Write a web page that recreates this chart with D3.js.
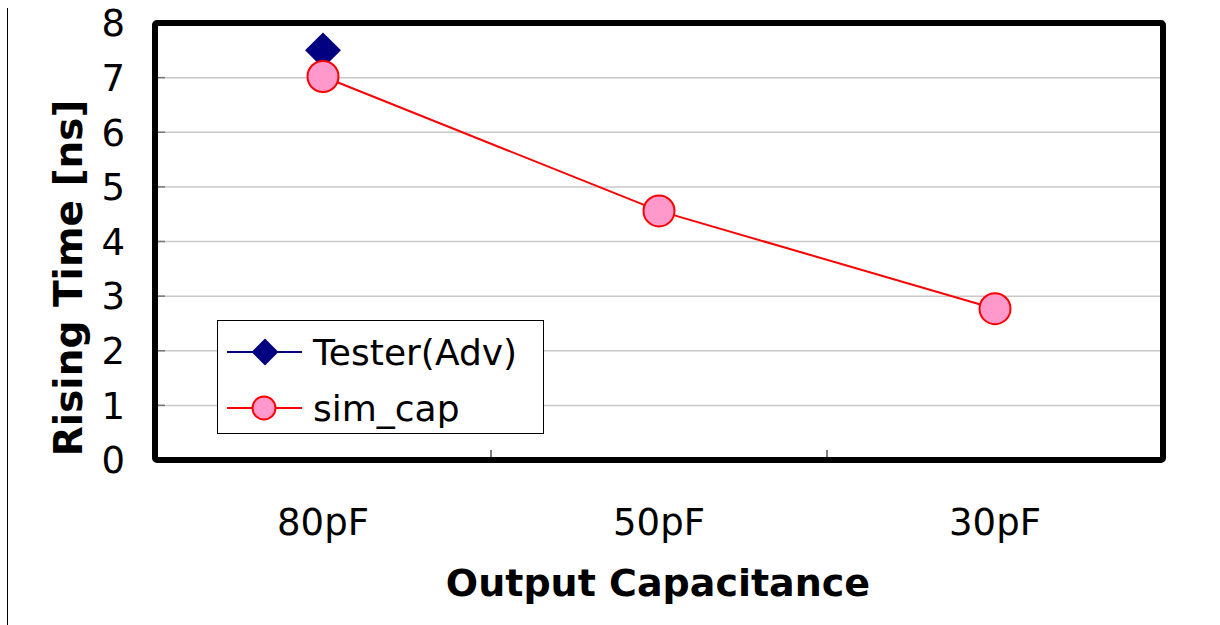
<!DOCTYPE html>
<html>
<head>
<meta charset="utf-8">
<script src="https://cdn.jsdelivr.net/npm/d3@7"></script>
<style>
  body { margin: 0; background: #fff; }
  text { font-family: "DejaVu Sans", "Noto Sans", sans-serif; }
</style>
</head>
<body>
<script>
var categories = ["80pF", "50pF", "30pF"];
var testerValues = [7.5, null, null];
var simCapValues = [7.02, 4.56, 2.77];
var yTicks = [0, 1, 2, 3, 4, 5, 6, 7, 8];

var W = 1220, H = 625;
var pl = 155, pt = 23, pr = 1163, pb = 460;

var svg = d3.select("body").append("svg")
    .attr("width", W).attr("height", H);

// thin line at far left
svg.append("line")
    .attr("x1", 7.5).attr("x2", 7.5).attr("y1", 8).attr("y2", H)
    .attr("stroke", "#000").attr("stroke-width", 1);

var x = d3.scaleBand().domain(categories).range([pl, pr]);
var y = d3.scaleLinear().domain([0, 8]).range([pb, pt]);

// gridlines
svg.append("g").selectAll("line")
    .data(yTicks.slice(1, -1))
    .enter().append("line")
    .attr("x1", pl).attr("x2", pr)
    .attr("y1", function (d) { return y(d); })
    .attr("y2", function (d) { return y(d); })
    .attr("stroke", "#c8c8c8").attr("stroke-width", 1.5);

// inner tick marks on y axis
svg.append("g").selectAll("line")
    .data(yTicks)
    .enter().append("line")
    .attr("x1", pl).attr("x2", pl + 10)
    .attr("y1", function (d) { return y(d); })
    .attr("y2", function (d) { return y(d); })
    .attr("stroke", "#777").attr("stroke-width", 1.5);

// category separators on x axis
svg.append("g").selectAll("line")
    .data(categories.slice(1))
    .enter().append("line")
    .attr("x1", function (d) { return x(d); })
    .attr("x2", function (d) { return x(d); })
    .attr("y1", pb).attr("y2", pb - 10)
    .attr("stroke", "#555").attr("stroke-width", 1.5);

// y labels
svg.append("g").selectAll("text")
    .data(yTicks)
    .enter().append("text")
    .attr("x", 125)
    .attr("y", function (d) { return y(d); })
    .attr("dy", "0.36em")
    .attr("text-anchor", "end")
    .style("font-size", "37px")
    .text(function (d) { return d; });

// x labels
svg.append("g").selectAll("text")
    .data(categories)
    .enter().append("text")
    .attr("x", function (d) { return x(d) + x.bandwidth() / 2; })
    .attr("y", 535)
    .attr("text-anchor", "middle")
    .style("font-size", "37px")
    .text(function (d) { return d; });

// axis titles
svg.append("text")
    .attr("transform", "translate(82,278) rotate(-90)")
    .attr("text-anchor", "middle")
    .style("font-size", "39px").style("font-weight", "bold")
    .text("Rising Time [ns]");

svg.append("text")
    .attr("x", 658).attr("y", 596)
    .attr("text-anchor", "middle")
    .style("font-size", "38px").style("font-weight", "bold")
    .text("Output Capacitance");

// plot frame
svg.append("rect")
    .attr("x", pl).attr("y", pt)
    .attr("width", pr - pl).attr("height", pb - pt)
    .attr("fill", "none").attr("stroke", "#000").attr("stroke-width", 6)
    .attr("rx", 2);

// sim_cap line
var cx = function (d) { return x(d.cat) + x.bandwidth() / 2; };
var simData = categories.map(function (c, i) { return { cat: c, v: simCapValues[i] }; });
var line = d3.line().x(cx).y(function (d) { return y(d.v); });
svg.append("path").datum(simData)
    .attr("d", line)
    .attr("fill", "none").attr("stroke", "#ff0000").attr("stroke-width", 2);

// tester diamonds
var testerData = categories.map(function (c, i) { return { cat: c, v: testerValues[i] }; })
    .filter(function (d) { return d.v != null; });
var diamond = d3.symbol().type(d3.symbolDiamond2).size(820);
svg.append("g").selectAll("path")
    .data(testerData)
    .enter().append("path")
    .attr("d", diamond)
    .attr("transform", function (d) { return "translate(" + cx(d) + "," + y(d.v) + ")"; })
    .attr("fill", "#000080");

// sim_cap circles
svg.append("g").selectAll("circle")
    .data(simData)
    .enter().append("circle")
    .attr("cx", cx).attr("cy", function (d) { return y(d.v); })
    .attr("r", 15.5)
    .attr("fill", "#ff99cc").attr("stroke", "#ff0000").attr("stroke-width", 2);

// legend
var lg = svg.append("g");
lg.append("rect")
    .attr("x", 217.5).attr("y", 320.5).attr("width", 326).attr("height", 113)
    .attr("fill", "#fff").attr("stroke", "#000").attr("stroke-width", 1);

lg.append("line").attr("x1", 227).attr("x2", 302).attr("y1", 352).attr("y2", 352)
    .attr("stroke", "#000080").attr("stroke-width", 2);
lg.append("path").attr("d", d3.symbol().type(d3.symbolDiamond2).size(465))
    .attr("transform", "translate(265,352)").attr("fill", "#000080");
lg.append("text").attr("x", 313).attr("y", 352).attr("dy", "0.36em")
    .style("font-size", "36px").text("Tester(Adv)");

lg.append("line").attr("x1", 227).attr("x2", 302).attr("y1", 408).attr("y2", 408)
    .attr("stroke", "#ff0000").attr("stroke-width", 2);
lg.append("circle").attr("cx", 264).attr("cy", 408).attr("r", 11.5)
    .attr("fill", "#ff99cc").attr("stroke", "#ff0000").attr("stroke-width", 2);
lg.append("text").attr("x", 313).attr("y", 408).attr("dy", "0.36em")
    .style("font-size", "36px").text("sim_cap");
</script>
</body>
</html>
